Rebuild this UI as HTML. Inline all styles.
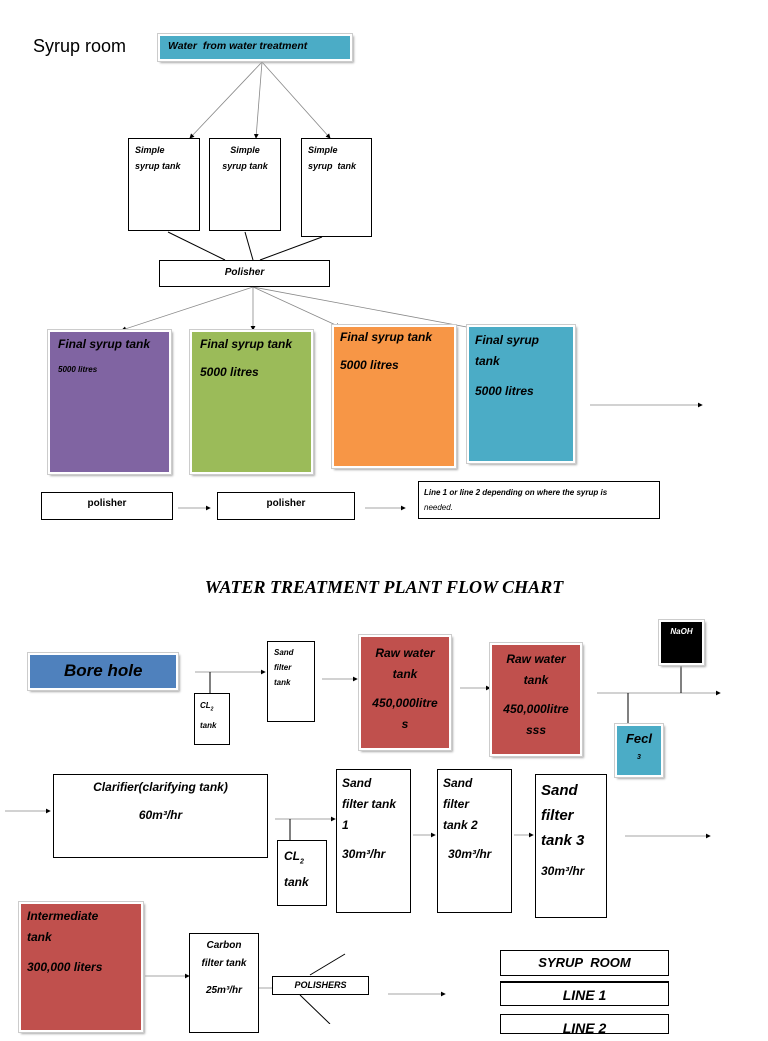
<!DOCTYPE html>
<html><head><meta charset="utf-8"><style>
body{margin:0;width:768px;height:1024px;overflow:hidden;background:#fff;position:relative;font-family:"Liberation Sans",sans-serif;}
.b{position:absolute;box-sizing:border-box;border:1px solid #000;background:#fff;font-style:italic;font-weight:bold;color:#000;}
.s{box-shadow:2px 2px 2px #aaa;border:2px solid #fff;outline:1px solid #ccc;}
.t{position:absolute;white-space:nowrap;}
svg{position:absolute;left:0;top:0;}
</style></head><body>
<svg width="768" height="1024">
<defs><marker id="a" markerWidth="6" markerHeight="6" refX="5" refY="3" orient="auto"><path d="M0,0L6,3L0,6z" fill="#000"/></marker></defs>
<g stroke="#888" stroke-width="0.8" fill="none">
<line x1="262" y1="62" x2="190" y2="138" marker-end="url(#a)"/>
<line x1="262" y1="62" x2="256" y2="138" marker-end="url(#a)"/>
<line x1="262" y1="62" x2="330" y2="138" marker-end="url(#a)"/>
<line x1="253" y1="287" x2="122" y2="330" marker-end="url(#a)"/>
<line x1="253" y1="287" x2="253" y2="330" marker-end="url(#a)"/>
<line x1="253" y1="287" x2="340" y2="327" marker-end="url(#a)"/>
<line x1="253" y1="287" x2="472" y2="328" marker-end="url(#a)"/>
<line x1="590" y1="405" x2="702" y2="405" marker-end="url(#a)"/>
<line x1="178" y1="508" x2="210" y2="508" marker-end="url(#a)"/>
<line x1="365" y1="508" x2="405" y2="508" marker-end="url(#a)"/>
<line x1="195" y1="672" x2="265" y2="672" marker-end="url(#a)"/>
<line x1="322" y1="679" x2="357" y2="679" marker-end="url(#a)"/>
<line x1="460" y1="688" x2="490" y2="688" marker-end="url(#a)"/>
<line x1="597" y1="693" x2="720" y2="693" marker-end="url(#a)"/>
<line x1="5" y1="811" x2="50" y2="811" marker-end="url(#a)"/>
<line x1="275" y1="819" x2="335" y2="819" marker-end="url(#a)"/>
<line x1="413" y1="835" x2="435" y2="835" marker-end="url(#a)"/>
<line x1="514" y1="835" x2="533" y2="835" marker-end="url(#a)"/>
<line x1="625" y1="836" x2="710" y2="836" marker-end="url(#a)"/>
<line x1="145" y1="976" x2="189" y2="976" marker-end="url(#a)"/>
<line x1="259" y1="988" x2="277" y2="988"/>
<line x1="388" y1="994" x2="445" y2="994" marker-end="url(#a)"/>
</g>
<g stroke="#000" stroke-width="1" fill="none">
<line x1="168" y1="232" x2="225" y2="260"/><line x1="245" y1="232" x2="253" y2="260"/><line x1="322" y1="237" x2="260" y2="260"/>
<line x1="210" y1="672" x2="210" y2="693"/>
<line x1="681" y1="665" x2="681" y2="693"/>
<line x1="628" y1="693" x2="628" y2="724"/>
<line x1="290" y1="819" x2="290" y2="840"/>
<line x1="310" y1="975" x2="345" y2="954"/>
<line x1="300" y1="995" x2="330" y2="1024"/>
<path d="M503,433 l3,5 h-6z" fill="#000"/>
</g>
</svg>
<div class="t" style="left:33px;top:36px;font-size:18px">Syrup room</div>
<div class="b s" style="left:158px;top:34px;width:194px;height:27px;background:#4bacc6;font-size:10.5px;padding:4px 8px">Water&nbsp; from water treatment</div>
<div class="b" style="left:128px;top:138px;width:72px;height:93px;font-size:9px;padding:3px 6px;line-height:16px">Simple<br>syrup tank</div>
<div class="b" style="left:209px;top:138px;width:72px;height:93px;font-size:9px;padding:3px 6px;line-height:16px;text-align:center">Simple<br>syrup tank</div>
<div class="b" style="left:301px;top:138px;width:71px;height:99px;font-size:9px;padding:3px 6px;line-height:16px">Simple<br>syrup&nbsp; tank</div>
<div class="b" style="left:159px;top:260px;width:171px;height:27px;font-size:10px;text-align:center;line-height:24px">Polisher</div>
<div class="b s" style="left:48px;top:330px;width:123px;height:144px;background:#8064a2;font-size:12px;padding:5px 8px">Final syrup tank<div style="font-size:8px;margin-top:14px">5000 litres</div></div>
<div class="b s" style="left:190px;top:330px;width:123px;height:144px;background:#9bbb59;font-size:12px;padding:5px 8px">Final syrup tank<div style="margin-top:14px">5000 litres</div></div>
<div class="b s" style="left:332px;top:325px;width:124px;height:143px;background:#f79646;font-size:12px;padding:3px 6px">Final syrup tank<div style="margin-top:14px">5000 litres</div></div>
<div class="b s" style="left:467px;top:325px;width:108px;height:138px;background:#4bacc6;font-size:12px;padding:3px 6px;line-height:21px">Final syrup<br>tank<div style="margin-top:9px">5000 litres</div></div>
<div class="b" style="left:41px;top:492px;width:132px;height:28px;font-size:10px;font-style:normal;text-align:center;line-height:22px">polisher</div>
<div class="b" style="left:217px;top:492px;width:138px;height:28px;font-size:10px;font-style:normal;text-align:center;line-height:22px">polisher</div>
<div class="b" style="left:418px;top:481px;width:242px;height:38px;font-size:8px;padding:3px 5px;line-height:15px">Line 1 or line 2 depending on where the syrup is<br><span style="font-weight:normal">needed.</span></div>
<div class="t" style="left:0;width:768px;text-align:center;top:577px;font-family:'Liberation Serif',serif;font-weight:bold;font-style:italic;font-size:18px">WATER TREATMENT PLANT FLOW CHART</div>
<div class="b s" style="left:28px;top:653px;width:150px;height:37px;background:#4f81bd;font-size:17px;padding:6px 0 0 34px">Bore hole</div>
<div class="b" style="left:194px;top:693px;width:36px;height:52px;font-size:8px;padding:4px 5px;line-height:15px">CL<sub style="font-size:5px">2</sub><br>tank</div>
<div class="b" style="left:267px;top:641px;width:48px;height:81px;font-size:8px;padding:3px 6px;line-height:15px">Sand<br>filter<br>tank</div>
<div class="b s" style="left:359px;top:635px;width:92px;height:115px;background:#c0504d;font-size:12px;text-align:center;padding-top:6px;line-height:21px">Raw water<br>tank<div style="margin-top:8px">450,000litre<br>s</div></div>
<div class="b s" style="left:490px;top:643px;width:92px;height:113px;background:#c0504d;font-size:12px;text-align:center;padding-top:4px;line-height:21px">Raw water<br>tank<div style="margin-top:8px">450,000litre<br>sss</div></div>
<div class="b s" style="left:659px;top:620px;width:45px;height:45px;background:#000;color:#fff;font-size:8px;text-align:center;padding-top:5px">NaOH</div>
<div class="b s" style="left:615px;top:724px;width:48px;height:53px;background:#4bacc6;font-size:13px;text-align:center;padding-top:5px">Fecl<div style="font-size:7px;margin-top:8px">3</div></div>
<div class="b" style="left:53px;top:774px;width:215px;height:84px;font-size:12px;text-align:center;padding-top:5px">Clarifier(clarifying tank)<div style="margin-top:14px">60m³/hr</div></div>
<div class="b" style="left:277px;top:840px;width:50px;height:66px;font-size:12px;padding:5px 6px;line-height:21px">CL<sub style="font-size:7px">2</sub><br>tank</div>
<div class="b" style="left:336px;top:769px;width:75px;height:144px;font-size:12px;padding:3px 5px;line-height:21px">Sand<br>filter tank<br>1<div style="margin-top:8px">30m³/hr</div></div>
<div class="b" style="left:437px;top:769px;width:75px;height:144px;font-size:12px;padding:3px 5px;line-height:21px">Sand<br>filter<br>tank 2<div style="margin-top:8px;padding-left:5px">30m³/hr</div></div>
<div class="b" style="left:535px;top:774px;width:72px;height:144px;font-size:15px;padding:3px 5px;line-height:25px">Sand<br>filter<br>tank 3<div style="margin-top:6px;font-size:12px">30m³/hr</div></div>
<div class="b s" style="left:19px;top:902px;width:124px;height:130px;background:#c0504d;font-size:12px;padding:2px 6px;line-height:21px">Intermediate<br>tank<div style="margin-top:9px">300,000 liters</div></div>
<div class="b" style="left:189px;top:933px;width:70px;height:100px;font-size:10px;text-align:center;padding-top:3px;line-height:18px">Carbon<br>filter tank<div style="margin-top:9px">25m³/hr</div></div>
<div class="b" style="left:272px;top:976px;width:97px;height:19px;font-size:9px;text-align:center;line-height:17px">POLISHERS</div>
<div class="b" style="left:500px;top:950px;width:169px;height:26px;font-size:13px;text-align:center;line-height:24px">SYRUP&nbsp; ROOM</div>
<div class="b" style="left:500px;top:981px;width:169px;height:25px;font-size:14px;text-align:center;line-height:25px;border-top-width:2px">LINE 1</div>
<div class="b" style="left:500px;top:1014px;width:169px;height:20px;font-size:14px;text-align:center;line-height:26px">LINE 2</div>
</body></html>
